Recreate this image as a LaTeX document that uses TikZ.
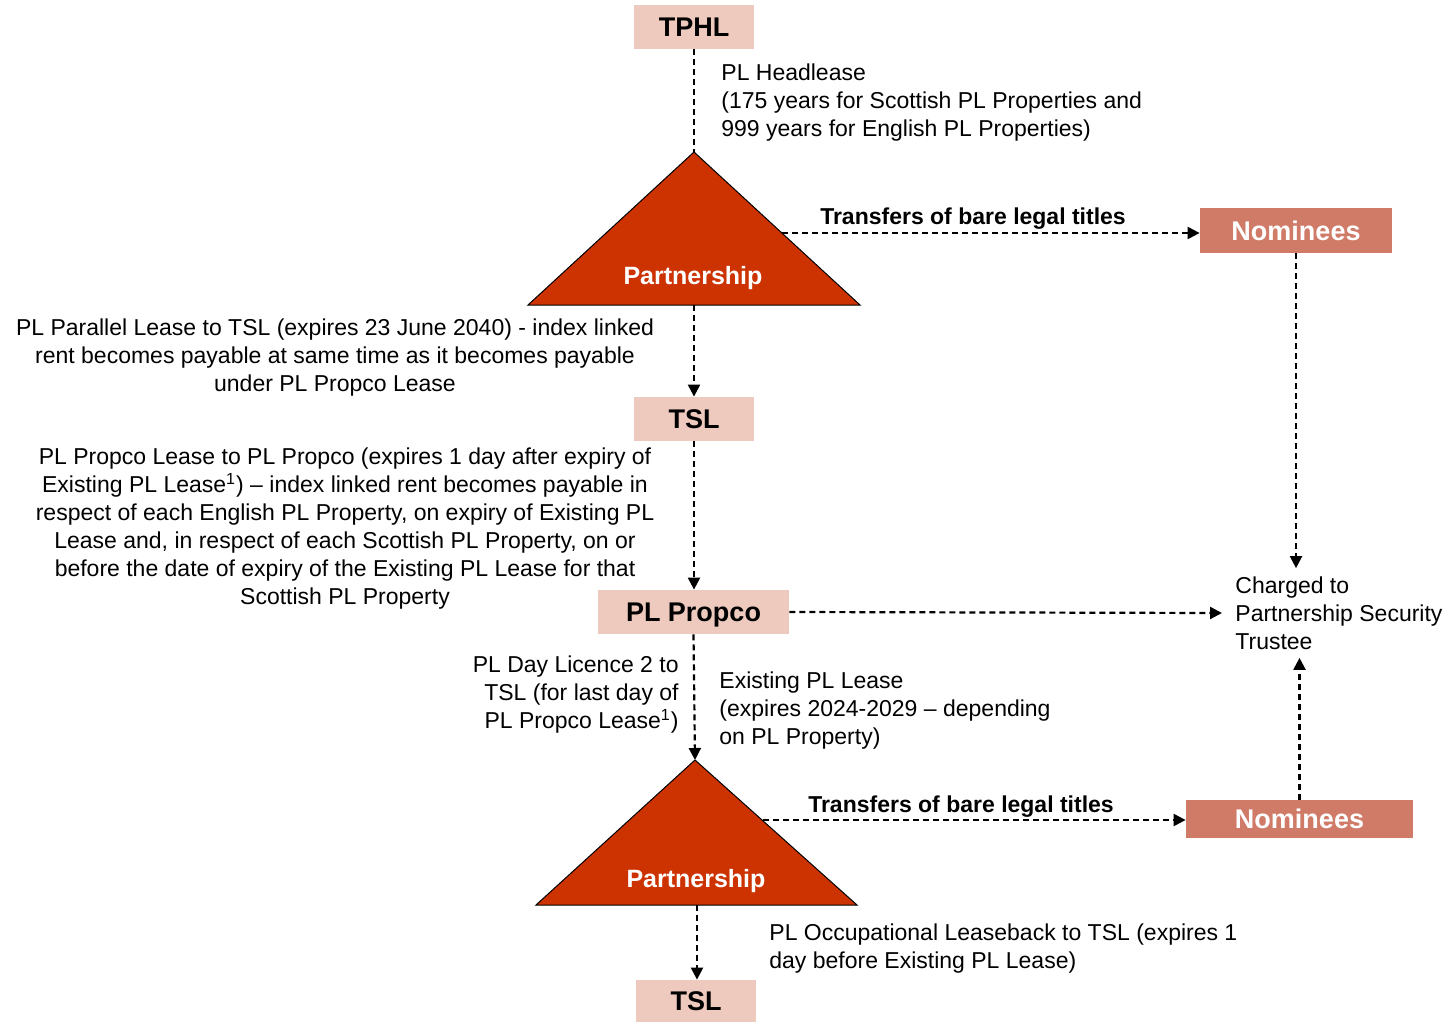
\documentclass[tikz,border=0pt]{standalone}
\usepackage{fontspec}
\setmainfont{Liberation Sans}
\usetikzlibrary{arrows.meta}
\definecolor{boxpink}{RGB}{237, 201, 190}
\definecolor{nompink}{RGB}{207, 123, 104}
\definecolor{partred}{RGB}{204, 51, 0}

\begin{document}
\begin{tikzpicture}[x=0.5pt, y=-0.5pt,
  entity/.style={fill=boxpink, inner sep=0pt, text depth=0pt, font=\fontsize{13.5}{16}\selectfont\bfseries},
  nominee/.style={fill=nompink, text=white, inner sep=0pt, text depth=0pt, font=\fontsize{13.5}{16}\selectfont\bfseries},
  partlabel/.style={text=white, inner sep=0pt, text depth=0pt, font=\fontsize{12.5}{15}\selectfont\bfseries},
  note/.style={inner sep=0pt, font=\fontsize{11.5}{14}\selectfont},
  boldnote/.style={note, text depth=0pt, font=\fontsize{11.5}{14}\selectfont\bfseries},
  link/.style={line width=1.1pt, dash pattern=on 3pt off 2pt},
  flow/.style={link, -{Triangle[length=6pt, width=6pt]}}]

  \useasboundingbox (0, 0) rectangle (1450, 1022);

  % boxes
  \node[entity, minimum width=60pt, minimum height=22pt] (tphl) at (694, 27) {TPHL};
  \node[entity, minimum width=60pt, minimum height=22pt] (tsla) at (694, 419) {TSL};
  \node[entity, minimum width=95.5pt, minimum height=22pt] (propco) at (693.5, 612) {PL Propco};
  \node[entity, minimum width=60pt, minimum height=21pt] (tslb) at (696, 1001) {TSL};
  \node[nominee, minimum width=96pt, minimum height=22.5pt] (noma) at (1296, 230.5) {Nominees};
  \node[nominee, minimum width=113.5pt, minimum height=19pt] (nomb) at (1299.5, 819) {Nominees};

  % partnership triangles
  \coordinate (partatop) at (694, 152);
  \coordinate (partabase) at (694, 305);
  \coordinate (partaedge) at (782, 233);
  \filldraw[fill=partred, line width=0.5pt] (partatop) -- (860, 305) -- (528, 305) -- cycle;
  \node[partlabel] (parta) at (693, 275) {Partnership};

  \coordinate (partbtop) at (695, 760);
  \coordinate (partbbase) at (697, 905);
  \coordinate (partbedge) at (763, 820);
  \filldraw[fill=partred, line width=0.5pt] (partbtop) -- (857, 905) -- (536, 905) -- cycle;
  \node[partlabel] (partb) at (696, 878) {Partnership};

  % trustee
  \node[note, align=left, anchor=west, inner xsep=6.5pt, inner ysep=4pt] (trustee) at (1222, 613)
    {Charged to\\Partnership Security\\Trustee};

  % notes
  \node[note, align=left, anchor=west] (headlease) at (721, 103)
    {PL Headlease\\(175 years for Scottish PL Properties and\\999 years for English PL Properties)};
  \node[note, align=center] (parallel) at (335, 358)
    {PL Parallel Lease to TSL (expires 23 June 2040) - index linked\\rent becomes payable at same time as it becomes payable\\under PL Propco Lease};
  \node[note, align=center] (propcolease) at (345, 529)
    {PL Propco Lease to PL Propco (expires 1 day after expiry of\\Existing PL Lease\textsuperscript{1}) – index linked rent becomes payable in\\respect of each English PL Property, on expiry of Existing PL\\Lease and, in respect of each Scottish PL Property, on or\\before the date of expiry of the Existing PL Lease for that\\Scottish PL Property};
  \node[note, align=right, anchor=east] (licence) at (679, 695)
    {PL Day Licence 2 to\\TSL (for last day of\\PL Propco Lease\textsuperscript{1})};
  \node[note, align=left, anchor=west] (existing) at (719, 711)
    {Existing PL Lease\\(expires 2024-2029 – depending\\on PL Property)};
  \node[note, align=left, anchor=west] (leaseback) at (769, 949)
    {PL Occupational Leaseback to TSL (expires 1\\day before Existing PL Lease)};
  \node[boldnote] (transfera) at (973, 216) {Transfers of bare legal titles};
  \node[boldnote] (transferb) at (961, 804) {Transfers of bare legal titles};

  % connectors
  \draw[link] (tphl.south) -- (partatop);
  \draw[flow] (partabase) -- (tsla.north);
  \draw[flow] (tsla.south) -- (tsla.south |- propco.north);
  \draw[flow] (propco.south) -- (partbtop);
  \draw[flow] (partbbase) -- (partbbase |- tslb.north);
  \draw[flow] (partaedge) -- (noma.west |- partaedge);
  \draw[flow] (partbedge) -- (nomb.west |- partbedge);
  \draw[flow] (propco.east) -- (trustee.west);
  \draw[flow] (noma.south) -- (noma.south |- trustee.north);
  \draw[flow] (nomb.north) -- (nomb.north |- trustee.south);

\end{tikzpicture}
\end{document}
